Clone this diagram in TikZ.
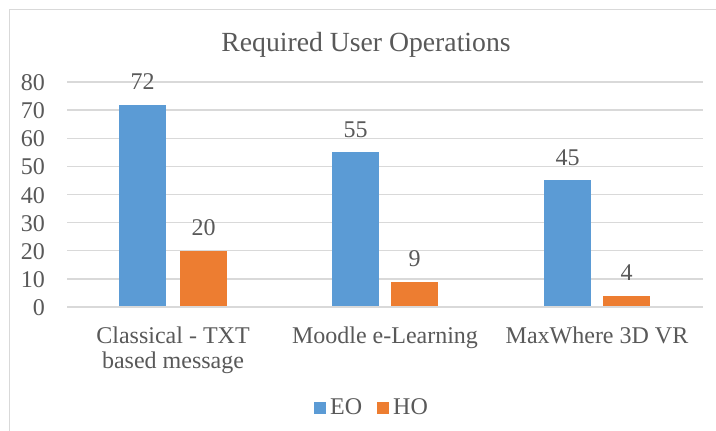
\documentclass[tikz,border=0pt]{standalone}
\usepackage{fontspec}
\setmainfont{Liberation Serif}
\definecolor{eoblue}{HTML}{5B9BD5}
\definecolor{hoorange}{HTML}{ED7D31}
\definecolor{gridgray}{HTML}{D9D9D9}
\definecolor{txtgray}{HTML}{595959}
\begin{document}
\begin{tikzpicture}[x=1pt,y=-1pt,
  lbl/.style={text=txtgray,font=\fontsize{24}{26}\selectfont,inner sep=0pt},
  ttl/.style={text=txtgray,font=\fontsize{27.7}{30}\selectfont,inner sep=0pt},
  gridln/.style={draw=gridgray,line width=1.3pt},
  eobar/.style={fill=eoblue},
  hobar/.style={fill=hoorange}]
\useasboundingbox (0,0) rectangle (716,431);
\fill[white] (0,0) rectangle (716,431);
% border (top and left only visible)
\draw[gridgray,line width=1.5pt] (9.5,431) -- (9.5,9.5) -- (716,9.5);
% title
\node[ttl,anchor=base] (title) at (366,51) {Required User Operations};
% gridlines and tick labels
\foreach \v in {0,10,...,80}{
  \pgfmathsetmacro{\yy}{307-2.8125*\v}
  \draw[gridln] (67,\yy) -- (703,\yy);
  \node[lbl,anchor=base east] (tick\v) at (45,\yy+8.5) {\v};
}
% bars: name, left x, value
\foreach \n/\x/\v/\s in {e1/119/72/eobar, h1/180/20/hobar, e2/332/55/eobar, h2/391/9/hobar, e3/544/45/eobar, h3/603/4/hobar}{
  \pgfmathsetmacro{\top}{307-2.8125*\v}
  \path[\s] (\x,\top) rectangle (\x+47,306.3);
  \node[lbl,anchor=base] (val\n) at (\x+23.5,\top-15) {\v};
}
% category labels
\node[lbl,anchor=base,align=center] (cat1) at (173,343.5) {Classical - TXT};
\node[lbl,anchor=base] (cat1b) at (173,368.5) {based message};
\node[lbl,anchor=base] (cat2) at (385,343.5) {Moodle e-Learning};
\node[lbl,anchor=base] (cat3) at (597,343.5) {MaxWhere 3D VR};
% legend
\fill[eoblue] (314,401.5) rectangle (326,413.5);
\node[lbl,anchor=base west] (legEO) at (330,414) {EO};
\fill[hoorange] (377,401.5) rectangle (389,413.5);
\node[lbl,anchor=base west] (legHO) at (393,414) {HO};
\end{tikzpicture}
\end{document}
